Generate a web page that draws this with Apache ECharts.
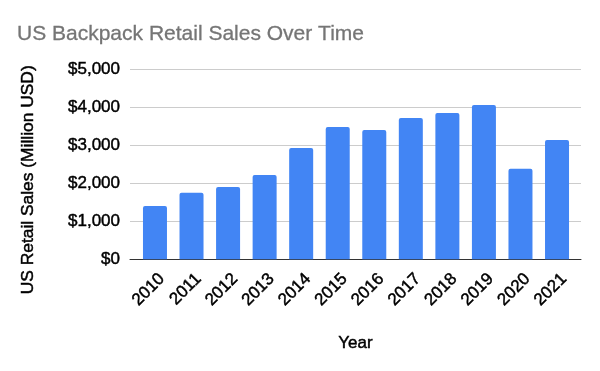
<!DOCTYPE html>
<html>
<head>
<meta charset="utf-8">
<script src="https://cdn.jsdelivr.net/npm/echarts@6/dist/echarts.min.js"></script>
<style>html,body{margin:0;padding:0;background:#fff}#c{width:600px;height:371px}</style>
</head>
<body>
<div id="c"></div>
<script>
var years = ['2010','2011','2012','2013','2014','2015','2016','2017','2018','2019','2020','2021'];
var sales = [1400, 1750, 1900, 2220, 2930, 3480, 3400, 3720, 3850, 4060, 2380, 3140];
var yTicks = [0, 1000, 2000, 3000, 4000, 5000];

var FONT = 'Liberation Sans, Arial, sans-serif';
var INK = '#000';
var EMB = {textBorderColor: INK, textBorderWidth: 0.45};
var chart = echarts.init(document.getElementById('c'), null, {renderer: 'canvas'});
function money(v){ return '$' + v.toLocaleString('en-US'); }
chart.setOption({
  animation: false,
  backgroundColor: '#fff',
  title: {
    text: 'US Backpack Retail Sales Over Time',
    left: 12, top: 19,
    textStyle: {fontFamily: FONT, fontSize: 21, fontWeight: 'normal', color: '#757575', textBorderColor: '#757575', textBorderWidth: 0.3}
  },
  grid: [
    {left: 130, right: 19, top: 69.3, bottom: 111.7, containLabel: false},
    {left: 136.7, right: 24.7, top: 69.3, bottom: 111.7, containLabel: false},
    {left: 143.7, right: 17.7, top: 69.3, bottom: 111.7, containLabel: false}
  ],
  xAxis: [
    {type: 'category', gridIndex: 0, data: years,
     axisLine: {show: true, lineStyle: {color: '#333', width: 1}},
     axisTick: {show: false}, axisLabel: {show: false}, splitLine: {show: false},
     name: 'Year', nameLocation: 'middle', nameGap: 76,
     nameTextStyle: Object.assign({fontFamily: FONT, fontSize: 17, color: INK}, EMB)},
    {type: 'category', gridIndex: 1, data: years,
     axisLine: {show: false}, axisTick: {show: false}, axisLabel: {show: false}},
    {type: 'category', gridIndex: 2, data: years,
     axisLine: {show: false}, axisTick: {show: false},
     axisLabel: Object.assign({rotate: 45, margin: 17, fontFamily: FONT, fontSize: 17, color: INK, interval: 0}, EMB)}
  ],
  yAxis: [
    {type: 'value', gridIndex: 0, min: yTicks[0], max: yTicks[yTicks.length-1], interval: 1000,
     axisLine: {show: false}, axisTick: {show: false},
     axisLabel: Object.assign({margin: 10, formatter: money, fontFamily: FONT, fontSize: 17, color: INK}, EMB),
     splitLine: {lineStyle: {color: '#cccccc', width: 1}},
     name: 'US Retail Sales (Million USD)', nameLocation: 'middle', nameGap: 93, nameRotate: 90,
     nameTextStyle: Object.assign({fontFamily: FONT, fontSize: 17.4, color: INK, padding: [0, 31, 0, 0]}, EMB)},
    {type: 'value', gridIndex: 1, min: yTicks[0], max: yTicks[yTicks.length-1], interval: 1000, show: false,
     splitLine: {show: false}},
    {type: 'value', gridIndex: 2, min: yTicks[0], max: yTicks[yTicks.length-1], interval: 1000, show: false,
     splitLine: {show: false}}
  ],
  series: [{
    type: 'bar', xAxisIndex: 1, yAxisIndex: 1, data: sales, barWidth: 24,
    itemStyle: {color: '#4285F4', borderRadius: [2,2,0,0]},
    z: 3
  }]
});
</script>
</body>
</html>
